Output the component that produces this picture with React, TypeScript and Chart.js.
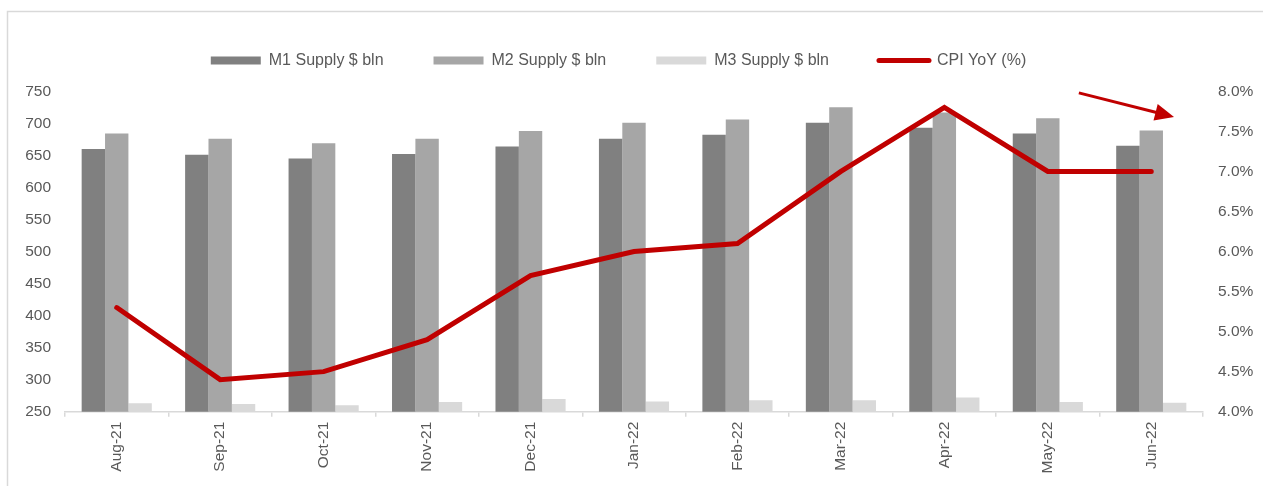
import React, { useEffect, useRef } from "react";
import { Chart, registerables } from "chart.js";

Chart.register(...registerables);

const categories = ["Aug-21", "Sep-21", "Oct-21", "Nov-21", "Dec-21", "Jan-22", "Feb-22", "Mar-22", "Apr-22", "May-22", "Jun-22"];
const m1Supply = [660, 651, 645, 652, 664, 676, 682, 701, 693, 684, 665];
const m2Supply = [684, 676, 669, 676, 688, 701, 706, 725, 717, 708, 689];
const m3Supply = [263, 262, 260, 265, 270, 266, 268, 268, 272, 265, 264];
const cpiYoY = [5.3, 4.4, 4.5, 4.9, 5.7, 6.0, 6.1, 7.0, 7.8, 7.0, 7.0];
const leftTicks = { min: 250, max: 750, step: 50 };
const rightTicks = { min: 4, max: 8, step: 0.5 };
// annotation arrow, in (category index, right-axis %) coordinates
const arrowFrom = [9.3, 7.98];
const arrowTo = [10.22, 7.68];

const FONT = "'Liberation Sans', Arial, sans-serif";
const TEXT = "#595959";
const RED = "#C00000";

export default function App() {
  const ref = useRef<HTMLCanvasElement>(null);
  useEffect(() => {
    const canvas = ref.current;
    if (!canvas) return;

    const framePlugin = {
      id: "frame",
      beforeDraw(chart: any) {
        const ctx = chart.ctx;
        ctx.save();
        ctx.fillStyle = "#ffffff";
        ctx.fillRect(0, 0, chart.width, chart.height);
        ctx.strokeStyle = "#D9D9D9";
        ctx.lineWidth = 1.5;
        ctx.strokeRect(7.5, 11.5, 1400, 600);
        ctx.restore();
      },
    };

    const legendPlugin = {
      id: "legendMargin",
      beforeInit(chart: any) {
        const orig = chart.legend.fit;
        chart.legend.fit = function () {
          orig.bind(chart.legend)();
          this.height += 12.8;
        };
      },
      afterLayout(chart: any) {
        chart.legend.left -= 13;
        chart.legend.right -= 13;
      },
    };

    const arrowPlugin = {
      id: "arrow",
      afterDatasetsDraw(chart: any) {
        const x = chart.scales.x;
        const y = chart.scales.y2;
        const x1 = x.getPixelForValue(arrowFrom[0]);
        const y1 = y.getPixelForValue(arrowFrom[1]);
        const x2 = x.getPixelForValue(arrowTo[0]);
        const y2 = y.getPixelForValue(arrowTo[1]);
        const ang = Math.atan2(y2 - y1, x2 - x1);
        const headLen = 19;
        const headW = 8.5;
        const ctx = chart.ctx;
        ctx.save();
        ctx.strokeStyle = RED;
        ctx.fillStyle = RED;
        ctx.lineWidth = 3;
        const bx = x2 - Math.cos(ang) * headLen;
        const by = y2 - Math.sin(ang) * headLen;
        ctx.beginPath();
        ctx.moveTo(x1, y1);
        ctx.lineTo(bx + Math.cos(ang) * 2, by + Math.sin(ang) * 2);
        ctx.stroke();
        ctx.beginPath();
        ctx.moveTo(x2, y2);
        ctx.lineTo(bx + Math.sin(ang) * headW, by - Math.cos(ang) * headW);
        ctx.lineTo(bx - Math.sin(ang) * headW, by + Math.cos(ang) * headW);
        ctx.closePath();
        ctx.fill();
        ctx.restore();
      },
    };

    const chart = new Chart(canvas, {
      type: "bar",
      data: {
        labels: categories,
        datasets: [
          { type: "bar", label: "M1 Supply $ bln", data: m1Supply, backgroundColor: "#808080", borderWidth: 0, yAxisID: "y", order: 1 },
          { type: "bar", label: "M2 Supply $ bln", data: m2Supply, backgroundColor: "#A6A6A6", borderWidth: 0, yAxisID: "y", order: 1 },
          { type: "bar", label: "M3 Supply $ bln", data: m3Supply, backgroundColor: "#D9D9D9", borderWidth: 0, yAxisID: "y", order: 1 },
          {
            type: "line",
            label: "CPI YoY (%)",
            data: cpiYoY,
            borderColor: RED,
            backgroundColor: RED,
            borderWidth: 5,
            borderCapStyle: "round",
            borderJoinStyle: "miter",
            pointRadius: 0,
            pointHoverRadius: 0,
            tension: 0,
            yAxisID: "y2",
            order: 0,
          } as any,
        ],
      },
      options: {
        responsive: false,
        animation: false,
        devicePixelRatio: 1,
        layout: { padding: { top: 2.5, left: 0, right: 0, bottom: 0 } },
        datasets: { bar: { categoryPercentage: 0.678, barPercentage: 1 } },
        plugins: {
          tooltip: { enabled: false },
          legend: {
            position: "top",
            align: "center",
            labels: {
              usePointStyle: true,
              pointStyleWidth: 50,
              boxHeight: 8,
              boxWidth: 50,
              padding: 50,
              color: TEXT,
              font: { family: FONT, size: 16 },
              generateLabels: (ch: any) =>
                ch.data.datasets.map((ds: any, i: number) => ({
                  text: ds.label,
                  fillStyle: ds.backgroundColor,
                  strokeStyle: ds.type === "line" ? ds.borderColor : ds.backgroundColor,
                  lineWidth: ds.type === "line" ? 5 : 0,
                  lineCap: "round",
                  pointStyle: ds.type === "line" ? "line" : "rect",
                  hidden: false,
                  datasetIndex: i,
                  fontColor: TEXT,
                })),
            },
          },
        },
        scales: {
          x: {
            offset: true,
            grid: { display: true, drawOnChartArea: false, drawTicks: true, tickLength: 5, color: "#D9D9D9", lineWidth: 1.5, offset: true },
            border: { display: true, color: "#D9D9D9", width: 1.5 },
            ticks: {
              autoSkip: false,
              minRotation: 90,
              maxRotation: 90,
              padding: 5,
              color: TEXT,
              font: { family: FONT, size: 15.5 },
            },
            afterFit: (s: any) => { s.height = 74.3; },
          },
          y: {
            position: "left",
            min: leftTicks.min,
            max: leftTicks.max,
            grid: { display: false, drawTicks: false },
            border: { display: false },
            ticks: { stepSize: leftTicks.step, padding: 14, color: TEXT, font: { family: FONT, size: 15.5 } },
            afterFit: (s: any) => { s.width = 65; },
          },
          y2: {
            position: "right",
            min: rightTicks.min,
            max: rightTicks.max,
            grid: { display: false, drawTicks: false },
            border: { display: false },
            ticks: {
              stepSize: rightTicks.step,
              padding: 15,
              color: TEXT,
              font: { family: FONT, size: 15.5 },
              callback: (v: any) => Number(v).toFixed(1) + "%",
            },
            afterFit: (s: any) => { s.width = 60; },
          },
        },
      },
      plugins: [framePlugin, legendPlugin, arrowPlugin],
    });
    return () => chart.destroy();
  }, []);

  return (
    <div style={{ position: "absolute", left: 0, top: 0, width: 1263, height: 486, background: "#fff" }}>
      <canvas ref={ref} width={1263} height={486} style={{ display: "block", width: 1263, height: 486 }} />
    </div>
  );
}
